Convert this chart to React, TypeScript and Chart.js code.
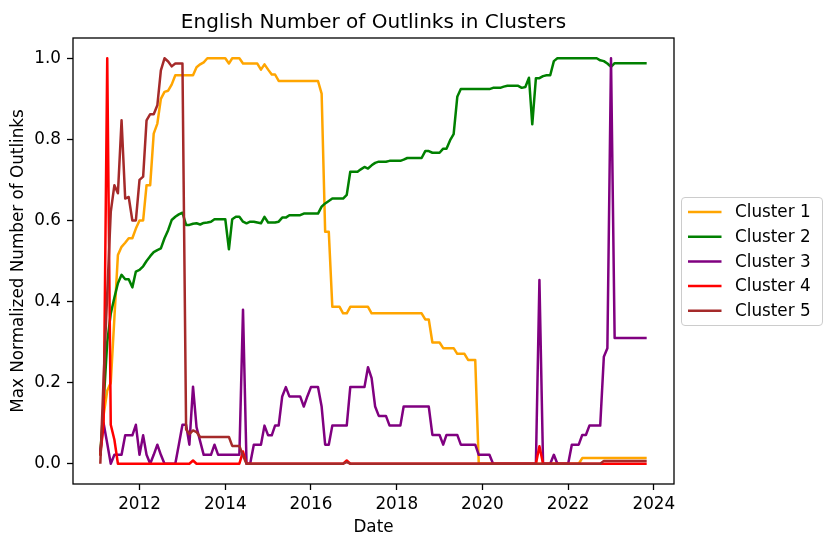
import React, { useEffect, useRef } from 'react';
import { Chart, registerables } from 'chart.js';

Chart.register(...registerables);

const FONT = '"DejaVu Sans", sans-serif';
const TITLE = 'English Number of Outlinks in Clusters';
const X_LABEL = 'Date';
const Y_LABEL = 'Max Normalized Number of Outlinks';

// Monthly observations: Feb 2011 .. Nov 2023
const START_YEAR = 2011;
const START_MONTH = 2;
const N_MONTHS = 154;
const months = Array.from({ length: N_MONTHS }, (_, i) => {
  const m = START_MONTH - 1 + i;
  return { year: START_YEAR + Math.floor(m / 12), month: (m % 12) + 1 };
});

const xTickYears = [2012, 2014, 2016, 2018, 2020, 2022, 2024];
const yTicks = [0, 0.2, 0.4, 0.6, 0.8, 1.0];

const seriesNames = ['Cluster 1', 'Cluster 2', 'Cluster 3', 'Cluster 4', 'Cluster 5'];
const seriesColors = ['#FFA500', '#008000', '#800080', '#FF0000', '#A52A2A'];

const cluster1 = [
  0.03, 0.12, 0.18, 0.2, 0.36, 0.515, 0.535, 0.545, 0.556, 0.556, 0.58,
  0.6, 0.6, 0.687, 0.687, 0.814, 0.839, 0.9, 0.917, 0.92, 0.935, 0.958, 0.958,
  0.958, 0.958, 0.958, 0.958, 0.978, 0.985, 0.99, 1.0, 1.0, 1.0, 1.0, 1.0,
  1.0, 0.987, 1.0, 1.0, 1.0, 0.987, 0.987, 0.987, 0.987, 0.987, 0.972, 0.985,
  0.972, 0.96, 0.96, 0.944, 0.944, 0.944, 0.944, 0.944, 0.944, 0.944, 0.944, 0.944,
  0.944, 0.944, 0.944, 0.913, 0.572, 0.572, 0.387, 0.387, 0.387, 0.371, 0.371, 0.387,
  0.387, 0.387, 0.387, 0.387, 0.387, 0.371, 0.371, 0.371, 0.371, 0.371, 0.371, 0.371,
  0.371, 0.371, 0.371, 0.371, 0.371, 0.371, 0.371, 0.371, 0.356, 0.356, 0.299, 0.299,
  0.299, 0.285, 0.285, 0.285, 0.285, 0.271, 0.271, 0.271, 0.256, 0.256, 0.256, 0,
  0, 0, 0, 0, 0, 0, 0, 0, 0, 0, 0, 0,
  0, 0, 0, 0, 0, 0, 0, 0, 0, 0, 0, 0,
  0, 0, 0, 0, 0.014, 0.014, 0.014, 0.014, 0.014, 0.014, 0.014, 0.014,
  0.014, 0.014, 0.014, 0.014, 0.014, 0.014, 0.014, 0.014, 0.014, 0.014, 0.014,
];

const cluster2 = [
  0.02, 0.15, 0.3, 0.37, 0.41, 0.445, 0.466, 0.455, 0.455, 0.435, 0.474,
  0.478, 0.487, 0.5, 0.512, 0.522, 0.527, 0.531, 0.556, 0.576, 0.601, 0.609, 0.615,
  0.619, 0.589, 0.589, 0.592, 0.593, 0.59, 0.594, 0.595, 0.597, 0.603, 0.603, 0.603,
  0.603, 0.529, 0.603, 0.609, 0.609, 0.597, 0.593, 0.597, 0.597, 0.595, 0.593, 0.609,
  0.595, 0.595, 0.595, 0.597, 0.607, 0.607, 0.613, 0.613, 0.613, 0.613, 0.617, 0.617,
  0.617, 0.617, 0.617, 0.634, 0.642, 0.648, 0.654, 0.654, 0.654, 0.654, 0.663, 0.72,
  0.72, 0.72, 0.726, 0.732, 0.728, 0.736, 0.742, 0.745, 0.745, 0.745, 0.747, 0.747,
  0.747, 0.747, 0.75, 0.754, 0.754, 0.754, 0.754, 0.754, 0.771, 0.771, 0.767, 0.767,
  0.767, 0.777, 0.777, 0.798, 0.813, 0.905, 0.924, 0.924, 0.924, 0.924, 0.924, 0.924,
  0.924, 0.924, 0.924, 0.927, 0.927, 0.927, 0.93, 0.932, 0.932, 0.932, 0.932, 0.927,
  0.929, 0.952, 0.837, 0.951, 0.951, 0.956, 0.958, 0.958, 0.993, 1.0, 1.0, 1.0,
  1.0, 1.0, 1.0, 1.0, 1.0, 1.0, 1.0, 1.0, 1.0, 0.995, 0.993, 0.987,
  0.979, 0.988, 0.988, 0.988, 0.988, 0.988, 0.988, 0.988, 0.988, 0.988, 0.988,
];

const cluster3 = [
  0.03, 0.1, 0.05, 0, 0.022, 0.022, 0.022, 0.07, 0.07, 0.07, 0.096,
  0.022, 0.07, 0.022, 0, 0.022, 0.047, 0.022, 0, 0, 0, 0, 0.047,
  0.096, 0.096, 0.047, 0.19, 0.09, 0.055, 0.022, 0.022, 0.022, 0.047, 0.022, 0.022,
  0.022, 0.022, 0.022, 0.022, 0.022, 0.38, 0, 0, 0.047, 0.047, 0.047, 0.094,
  0.07, 0.07, 0.094, 0.094, 0.166, 0.189, 0.166, 0.166, 0.166, 0.166, 0.141, 0.166,
  0.189, 0.189, 0.189, 0.141, 0.047, 0.047, 0.094, 0.094, 0.094, 0.094, 0.094, 0.189,
  0.189, 0.189, 0.189, 0.189, 0.238, 0.211, 0.141, 0.118, 0.118, 0.118, 0.094, 0.094,
  0.094, 0.094, 0.141, 0.141, 0.141, 0.141, 0.141, 0.141, 0.141, 0.141, 0.071, 0.071,
  0.071, 0.047, 0.071, 0.071, 0.071, 0.071, 0.047, 0.047, 0.047, 0.047, 0.047, 0.022,
  0.022, 0.022, 0.022, 0, 0, 0, 0, 0, 0, 0, 0, 0,
  0, 0, 0, 0, 0.453, 0, 0, 0, 0.022, 0, 0, 0,
  0, 0.047, 0.047, 0.047, 0.071, 0.071, 0.094, 0.094, 0.094, 0.094, 0.264, 0.285,
  1.0, 0.31, 0.31, 0.31, 0.31, 0.31, 0.31, 0.31, 0.31, 0.31, 0.31,
];

const cluster4 = [
  0.02, 0.1, 1.0, 0.096, 0.059, 0, 0, 0, 0, 0, 0,
  0, 0, 0, 0, 0, 0, 0, 0, 0, 0, 0, 0,
  0, 0, 0, 0.008, 0, 0, 0, 0, 0, 0, 0, 0,
  0, 0, 0, 0, 0, 0.03, 0, 0, 0, 0, 0, 0,
  0, 0, 0, 0, 0, 0, 0, 0, 0, 0, 0, 0,
  0, 0, 0, 0, 0, 0, 0, 0, 0, 0, 0.008, 0,
  0, 0, 0, 0, 0, 0, 0, 0, 0, 0, 0, 0,
  0, 0, 0, 0, 0, 0, 0, 0, 0, 0, 0, 0,
  0, 0, 0, 0, 0, 0, 0, 0, 0, 0, 0, 0,
  0, 0, 0, 0, 0, 0, 0, 0, 0, 0, 0, 0,
  0, 0, 0, 0, 0.043, 0, 0, 0, 0, 0, 0, 0,
  0, 0, 0, 0, 0, 0, 0, 0, 0, 0, 0, 0,
  0, 0, 0, 0, 0, 0, 0, 0, 0, 0, 0,
];

const cluster5 = [
  0, 0.21, 0.42, 0.621, 0.687, 0.667, 0.847, 0.654, 0.658, 0.6, 0.6,
  0.7, 0.708, 0.847, 0.862, 0.862, 0.884, 0.97, 1.0, 0.992, 0.98, 0.987, 0.987,
  0.987, 0.085, 0.073, 0.082, 0.078, 0.066, 0.066, 0.066, 0.066, 0.066, 0.066, 0.066,
  0.066, 0.066, 0.044, 0.044, 0.044, 0.02, 0, 0, 0, 0, 0, 0,
  0, 0, 0, 0, 0, 0, 0, 0, 0, 0, 0, 0,
  0, 0, 0, 0, 0, 0, 0, 0, 0, 0, 0.004, 0,
  0, 0, 0, 0, 0, 0, 0, 0, 0, 0, 0, 0,
  0, 0, 0, 0, 0, 0, 0, 0, 0, 0, 0, 0,
  0, 0, 0, 0, 0, 0, 0, 0, 0, 0, 0, 0,
  0, 0, 0, 0, 0, 0, 0, 0, 0, 0, 0, 0,
  0, 0, 0, 0, 0, 0, 0, 0, 0, 0, 0, 0,
  0, 0, 0, 0, 0, 0, 0, 0, 0, 0, 0.007, 0.007,
  0.007, 0.007, 0.007, 0.007, 0.007, 0.007, 0.007, 0.007, 0.007, 0.007, 0.007,
];

const seriesValues = [cluster1, cluster2, cluster3, cluster4, cluster5];

const DAY = 864e5;
const xDays = months.map((m) => Date.UTC(m.year, m.month - 1, 1) / DAY);
const xTickDays = xTickYears.map((y) => Date.UTC(y, 0, 1) / DAY);

const decorPlugin = {
  id: 'mplDecor',
  afterDraw(chart: any) {
    const { ctx, chartArea: a } = chart;
    ctx.save();
    // axes frame
    ctx.strokeStyle = '#000';
    ctx.lineWidth = 1.3;
    ctx.strokeRect(a.left, a.top, a.right - a.left, a.bottom - a.top);

    ctx.fillStyle = '#000';
    const cx = (a.left + a.right) / 2;
    // title
    ctx.font = `20px ${FONT}`;
    ctx.textAlign = 'center';
    ctx.textBaseline = 'alphabetic';
    ctx.fillText(TITLE, cx, a.top - 10);
    // x label
    ctx.font = `16.8px ${FONT}`;
    ctx.fillText(X_LABEL, cx, 532);
    // y label
    ctx.save();
    ctx.translate(19, (a.top + a.bottom) / 2);
    ctx.rotate(-Math.PI / 2);
    ctx.textBaseline = 'middle';
    ctx.fillText(Y_LABEL, 0, 0);
    ctx.restore();

    // legend
    const lx = 681, ly = 197, lw = 141, lh = 128;
    ctx.beginPath();
    (ctx as any).roundRect(lx + 0.5, ly + 0.5, lw, lh, 3.5);
    ctx.fillStyle = 'rgba(255,255,255,0.8)';
    ctx.fill();
    ctx.strokeStyle = '#cccccc';
    ctx.lineWidth = 1;
    ctx.stroke();
    ctx.font = `16.8px ${FONT}`;
    ctx.textAlign = 'left';
    ctx.textBaseline = 'middle';
    seriesNames.forEach((name, i) => {
      const ry = 212 + i * 24.7;
      ctx.strokeStyle = seriesColors[i];
      ctx.lineWidth = 2.5;
      ctx.beginPath();
      ctx.moveTo(688, ry);
      ctx.lineTo(721.5, ry);
      ctx.stroke();
      ctx.fillStyle = '#000';
      ctx.fillText(name, 735, ry + 1);
    });
    ctx.restore();
  },
};

export default function App() {
  const canvasRef = useRef<HTMLCanvasElement | null>(null);

  useEffect(() => {
    const canvas = canvasRef.current;
    if (!canvas) return;
    const xMin = xDays[0];
    const xMax = xDays[xDays.length - 1];
    const xm = (xMax - xMin) * 0.05;

    const datasets = seriesNames.map((name, si) => ({
      label: name,
      data: xDays.map((x, i) => ({ x, y: seriesValues[si][i] })),
      borderColor: seriesColors[si],
      backgroundColor: seriesColors[si],
      borderWidth: 2.5,
      pointRadius: 0,
      pointHoverRadius: 0,
      tension: 0,
      fill: false,
      borderJoinStyle: 'round' as const,
      order: seriesNames.length - si,
    }));

    const chart = new Chart(canvas, {
      type: 'line',
      data: { datasets },
      options: {
        responsive: false,
        maintainAspectRatio: false,
        devicePixelRatio: 1,
        animation: false,
        events: [],
        layout: { padding: { top: 38, right: 157, left: 0, bottom: 0 } },
        plugins: {
          legend: { display: false },
          title: { display: false },
          tooltip: { enabled: false },
        },
        scales: {
          x: {
            type: 'linear',
            min: xMin - xm,
            max: xMax + xm,
            afterFit: (s: any) => { s.height = 64; },
            afterBuildTicks: (s: any) => { s.ticks = xTickDays.map((v) => ({ value: v })); },
            border: { display: false },
            grid: {
              display: true,
              drawOnChartArea: false,
              drawTicks: true,
              tickLength: 6,
              tickWidth: 1.3,
              tickColor: '#000',
            },
            ticks: {
              autoSkip: false,
              maxRotation: 0,
              minRotation: 0,
              padding: 5,
              color: '#000',
              font: { family: FONT, size: 16.8 },
              callback: (v: any) => String(new Date(Number(v) * DAY).getUTCFullYear()),
            },
          },
          y: {
            type: 'linear',
            min: -0.05,
            max: 1.05,
            afterFit: (s: any) => { s.width = 73; },
            afterBuildTicks: (s: any) => { s.ticks = yTicks.map((v) => ({ value: v })); },
            border: { display: false },
            grid: {
              display: true,
              drawOnChartArea: false,
              drawTicks: true,
              tickLength: 6,
              tickWidth: 1.3,
              tickColor: '#000',
            },
            ticks: {
              autoSkip: false,
              padding: 6,
              color: '#000',
              font: { family: FONT, size: 16.8 },
              callback: (v: any) => Number(v).toFixed(1),
            },
          },
        },
      },
      plugins: [decorPlugin],
    });
    return () => chart.destroy();
  }, []);

  return (
    <div style={{ position: 'absolute', left: 0, top: 0, width: 831, height: 548, background: '#fff' }}>
      <canvas ref={canvasRef} width={831} height={548} style={{ display: 'block', width: 831, height: 548 }} />
    </div>
  );
}
